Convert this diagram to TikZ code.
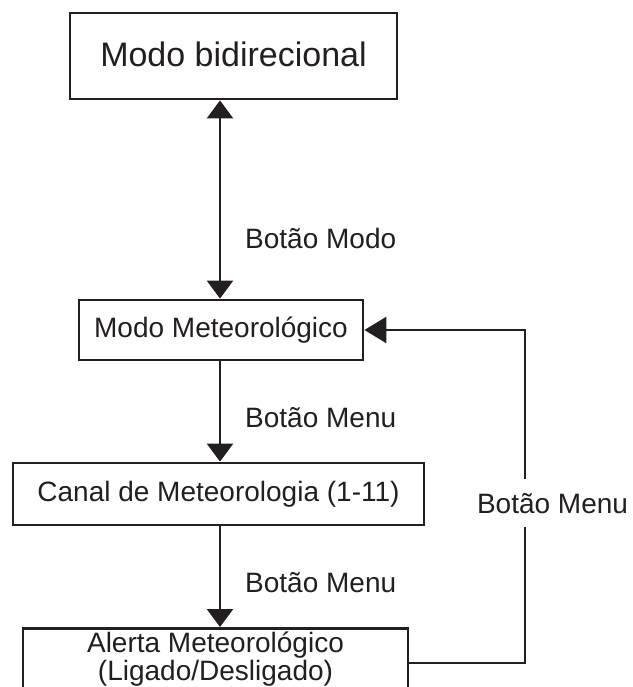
\documentclass[tikz,border=0pt]{standalone}
\usepackage{fontspec}
\setmainfont{Liberation Sans}
\usetikzlibrary{arrows.meta}
\definecolor{ink}{HTML}{231F20}
\begin{document}
\begin{tikzpicture}[x=1pt,y=-1pt,
  box/.style={draw=ink,line width=2.8pt,inner sep=0pt,text=ink,font=\fontsize{28}{30}\selectfont,
    text height=20pt,text depth=5pt},
  lbl/.style={text=ink,font=\fontsize{28}{30}\selectfont,inner sep=0pt},
  conn/.style={draw=ink,line width=2.6pt},
  tip/.style={-{Triangle[length=18pt,width=26pt]}},
  bitip/.style={{Triangle[length=18pt,width=26pt]}-{Triangle[length=18pt,width=26pt]}},
  ltip/.style={-{Triangle[length=22pt,width=26pt]}}
]
\useasboundingbox (0,0) rectangle (632,687);
\clip (0,0) rectangle (632,687);
\fill[white] (0,0) rectangle (632,687);

\node[box,minimum width=327pt,minimum height=86pt,font=\fontsize{34}{36}\selectfont,text height=24.3pt,text depth=4pt] (tb) at (233.5,56) {Modo bidirecional};
\node[box,minimum width=284pt,minimum height=60pt] (mm) at (221,330) {Modo Meteorológico};
\node[box,minimum width=411pt,minimum height=62pt] (cn) at (218.5,494) {Canal de Meteorologia (1-11)};
\node[box,minimum width=385pt,minimum height=100pt,anchor=north] (al) at (215.5,627) {};
\node[lbl,anchor=base] (al1) at (215.5,652) {Alerta Meteorológico};
\node[lbl,anchor=base] (al2) at (215.5,680) {(Ligado/Desligado)};

\coordinate (ax) at (220,0);
\coordinate (rc) at (525,663);

\draw[conn,bitip] (ax |- tb.south) -- (ax |- mm.north);
\draw[conn,tip] (ax |- mm.south) -- (ax |- cn.north);
\draw[conn,tip] (ax |- cn.south) -- (ax |- al.north);
\draw[conn,ltip] (al.east |- rc) -- (rc) -- (rc |- mm.east) -- (mm.east);

\node[lbl,anchor=base west] (l1) at (245,248) {Botão Modo};
\node[lbl,anchor=base west] (l2) at (245,427) {Botão Menu};
\node[lbl,anchor=base west] (l3) at (245,592) {Botão Menu};
\node[lbl,anchor=base,fill=white,inner ysep=14pt,inner xsep=2pt] (l4) at (552.5,513) {Botão Menu};
\end{tikzpicture}
\end{document}
